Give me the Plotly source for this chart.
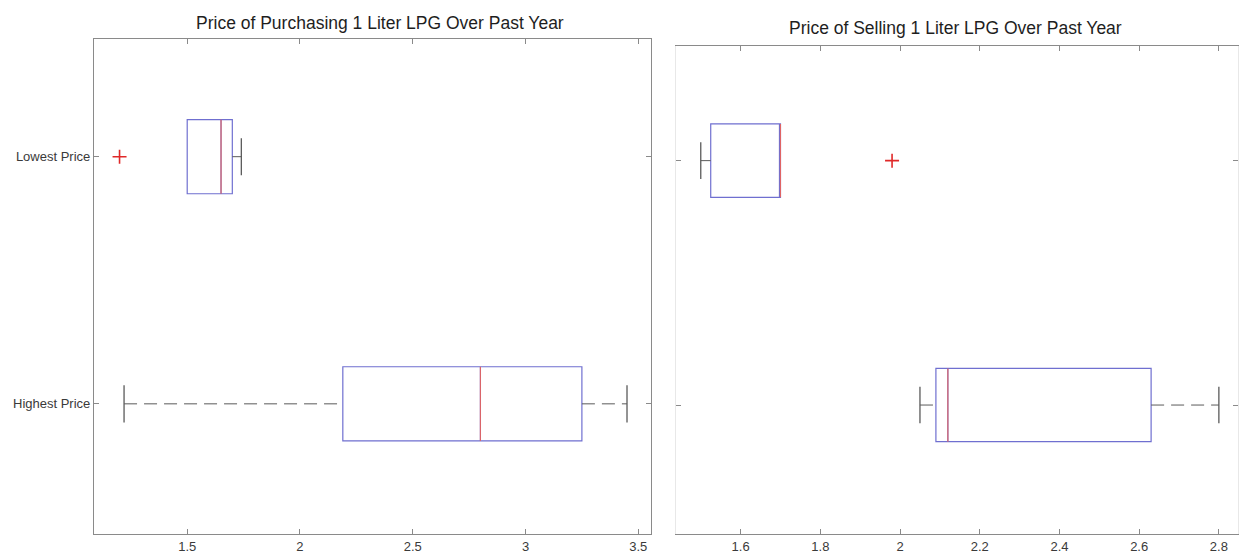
import plotly.graph_objects as go

# Price groups (1 = top row, 2 = bottom row)
groups = ["Lowest Price", "Highest Price"]
group_pos = [1, 2]

# Purchasing price summary statistics per group
buy_lower_whisker = [1.50, 1.22]
buy_q1 = [1.50, 2.19]
buy_median = [1.65, 2.80]
buy_q3 = [1.70, 3.25]
buy_upper_whisker = [1.74, 3.45]
buy_outliers = [[1.20], []]

# Selling price summary statistics per group
sell_lower_whisker = [1.50, 2.05]
sell_q1 = [1.525, 2.09]
sell_median = [1.70, 2.12]
sell_q3 = [1.70, 2.63]
sell_upper_whisker = [1.70, 2.80]
sell_outliers = [[1.98], []]

buy_ticks = [1.5, 2, 2.5, 3, 3.5]
buy_tick_text = ["1.5", "2", "2.5", "3", "3.5"]
sell_ticks = [1.6, 1.8, 2.0, 2.2, 2.4, 2.6, 2.8]
sell_tick_text = ["1.6", "1.8", "2", "2.2", "2.4", "2.6", "2.8"]

titles = ["Price of Purchasing 1 Liter LPG Over Past Year",
          "Price of Selling 1 Liter LPG Over Past Year"]

BOX_W = 0.3
CAP_W = 0.15
BOX_COLOR = "#6f6fd0"
MED_COLOR = "#e06464"
WHISK_COLOR = "#5a5a5a"
OUT_COLOR = "#e02828"
AXIS_COLOR = "#8a8a8a"
FONT = "Liberation Sans, Arial, sans-serif"

fig = go.Figure()


def add_boxes(lw, q1, med, q3, uw, outliers, xa, ya):
    for i, p in enumerate(group_pos):
        # whiskers (dashed) with end caps, only where the whisker has length
        for a, b, end in ((lw[i], q1[i], lw[i]), (q3[i], uw[i], uw[i])):
            if b == a:
                continue
            fig.add_trace(go.Scatter(
                x=[a, b], y=[p, p], mode="lines", xaxis=xa, yaxis=ya,
                line=dict(color=WHISK_COLOR, width=1, dash="13px,7px"),
                showlegend=False, hoverinfo="skip"))
            fig.add_trace(go.Scatter(
                x=[end, end], y=[p - CAP_W / 2, p + CAP_W / 2], mode="lines",
                xaxis=xa, yaxis=ya,
                line=dict(color=WHISK_COLOR, width=1.3),
                showlegend=False, hoverinfo="skip"))
        # box (quartiles)
        fig.add_trace(go.Box(
            orientation="h", y=[p], q1=[q1[i]], median=[med[i]], q3=[q3[i]],
            lowerfence=[q1[i]], upperfence=[q3[i]], width=BOX_W,
            whiskerwidth=0, boxpoints=False,
            fillcolor="rgba(255,255,255,0)",
            line=dict(color=BOX_COLOR, width=1.2),
            xaxis=xa, yaxis=ya, showlegend=False, hoverinfo="skip"))
        # median line
        fig.add_trace(go.Scatter(
            x=[med[i], med[i]], y=[p - BOX_W / 2, p + BOX_W / 2], mode="lines",
            xaxis=xa, yaxis=ya, line=dict(color=MED_COLOR, width=1.1),
            showlegend=False, hoverinfo="skip"))
        # outliers
        if outliers[i]:
            fig.add_trace(go.Scatter(
                x=outliers[i], y=[p] * len(outliers[i]), mode="markers",
                xaxis=xa, yaxis=ya,
                marker=dict(symbol="cross-thin", size=10,
                            line=dict(color=OUT_COLOR, width=1.6)),
                showlegend=False, hoverinfo="skip"))


add_boxes(buy_lower_whisker, buy_q1, buy_median, buy_q3, buy_upper_whisker,
          buy_outliers, "x", "y")
add_boxes(sell_lower_whisker, sell_q1, sell_median, sell_q3, sell_upper_whisker,
          sell_outliers, "x2", "y2")

W, H = 1239, 554
tick_font = dict(family=FONT, size=13, color="#3a3a3a")

axis_common = dict(showgrid=False, zeroline=False, ticks="inside", ticklen=5,
                   tickcolor=AXIS_COLOR, showline=True, mirror="ticks",
                   linewidth=1, tickfont=tick_font)

fig.update_layout(
    width=W, height=H,
    margin=dict(l=0, r=0, t=0, b=0),
    paper_bgcolor="white", plot_bgcolor="white",
    xaxis=dict(domain=[94 / W, 652 / W], range=[1.0864, 3.5585],
               tickvals=buy_ticks, ticktext=buy_tick_text,
               linecolor=AXIS_COLOR, anchor="y", **axis_common),
    yaxis=dict(domain=[(H - 537) / H, (H - 39) / H], range=[2.527, 0.523],
               tickvals=group_pos, ticktext=groups,
               linecolor=AXIS_COLOR, anchor="x", **axis_common),
    xaxis2=dict(domain=[677 / W, 1.0], range=[1.439, 2.848],
                tickvals=sell_ticks, ticktext=sell_tick_text,
                linecolor=AXIS_COLOR, anchor="y2", **axis_common),
    yaxis2=dict(domain=[(H - 537) / H, (H - 46) / H], range=[2.528, 0.530],
                tickvals=group_pos, ticktext=["", ""],
                linecolor="#e8e8e8", anchor="x2", **axis_common),
    annotations=[
        dict(text=titles[0], x=380 / W, y=(H - 23) / H, xref="paper", yref="paper",
             xanchor="center", yanchor="middle", showarrow=False,
             font=dict(family=FONT, size=17.5, color="#1e1e1e")),
        dict(text=titles[1], x=956 / W, y=(H - 28) / H, xref="paper", yref="paper",
             xanchor="center", yanchor="middle", showarrow=False,
             font=dict(family=FONT, size=17.5, color="#1e1e1e")),
    ],
)

fig.write_html("out.html")
